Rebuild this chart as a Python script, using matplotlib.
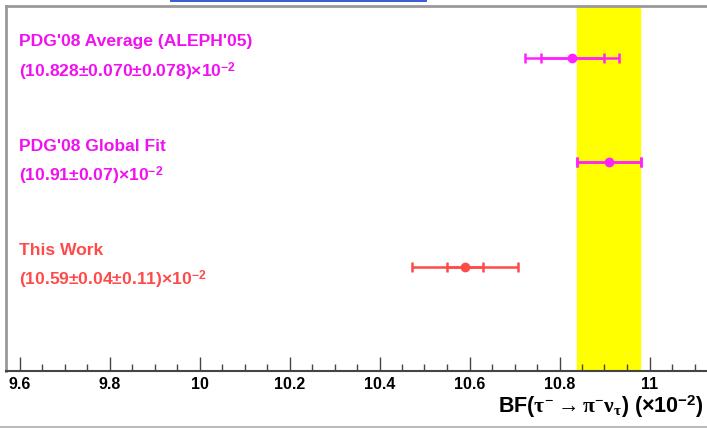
import matplotlib
matplotlib.use("Agg")
import matplotlib.pyplot as plt
from matplotlib.ticker import MultipleLocator
from matplotlib.patches import Rectangle
from matplotlib.lines import Line2D

plt.rcParams['font.family'] = ['Liberation Sans', 'DejaVu Sans']
plt.rcParams['font.weight'] = 'bold'
plt.rcParams['mathtext.fontset'] = 'custom'
plt.rcParams['mathtext.rm'] = 'Liberation Serif'
plt.rcParams['mathtext.it'] = 'Liberation Serif'
plt.rcParams['mathtext.bf'] = 'Liberation Sans:bold'

# measurements of BF(tau -> pi nu), in units of 1e-2
names = ["This Work", "PDG'08 Global Fit", "PDG'08 Average (ALEPH'05)"]
values_txt = [r"(10.59±0.04±0.11)×10$^{\mathbf{-2}}$",
              r"(10.91±0.07)×10$^{\mathbf{-2}}$",
              r"(10.828±0.070±0.078)×10$^{\mathbf{-2}}$"]
central = [10.59, 10.91, 10.828]
stat_err = [0.04, 0.07, 0.070]
total_err = [0.117, 0.07, 0.105]   # stat (+) syst in quadrature
rows = [1, 2, 3]
colors = ['#ff4a4a', '#ff22ff', '#ff22ff']
text_colors = ['#ff4a4a', '#f010f0', '#f010f0']

# PDG global fit band
band_lo = 10.84
band_hi = 10.98

fig = plt.figure(figsize=(7.07, 4.28), dpi=100)
ax = fig.add_axes([6/707, 57/428, 711/707, 365/428])
ax.set_xlim(9.57, 11.15)
ax.set_ylim(0, 3.5)

ax.axvspan(band_lo, band_hi, color='#ffff00', zorder=0)

for i in range(3):
    ax.errorbar(central[i], rows[i], xerr=total_err[i], fmt='none', ecolor=colors[i],
                elinewidth=1.8, capsize=3.3, capthick=1.8, zorder=3)
    ax.errorbar(central[i], rows[i], xerr=stat_err[i], fmt='o', color=colors[i], ms=6,
                ecolor=colors[i], elinewidth=1.8, capsize=3.3, capthick=1.8, zorder=4)
    ax.text(9.6, rows[i] + 0.155, names[i], color=text_colors[i], fontsize=12.6,
            fontweight='bold', va='center', ha='left')
    ax.text(9.6, rows[i] - 0.13, values_txt[i], color=text_colors[i], fontsize=12.6,
            fontweight='bold', va='center', ha='left')

ax.xaxis.set_major_locator(MultipleLocator(0.2))
ax.xaxis.set_minor_locator(MultipleLocator(0.05))
ax.xaxis.set_major_formatter(plt.FuncFormatter(lambda v, p: f"{v:g}"))
ax.tick_params(axis='x', which='major', direction='in', length=10, width=1,
               color='#444444', labelsize=11.5, pad=4)
ax.tick_params(axis='x', which='minor', direction='in', length=5, width=1, color='#444444')
ax.set_yticks([])
for lbl in ax.get_xticklabels():
    lbl.set_fontweight('bold')

ax.spines['left'].set_color('#999999')
ax.spines['left'].set_linewidth(2)
ax.spines['top'].set_color('#999999')
ax.spines['top'].set_linewidth(2)
ax.spines['bottom'].set_color('#444444')
ax.spines['bottom'].set_linewidth(1.5)
ax.spines['right'].set_visible(False)

fig.text(704/707, 15/428, r"BF($\tau^{-}\rightarrow\pi^{-}\nu_{\tau}$) (×10$^{\mathbf{-2}}$)",
         ha='right', va='baseline', fontsize=15.5, fontweight='bold')

# bits of the surrounding page that were caught in the screenshot
fig.add_artist(Rectangle((170/707, 426/428), 257/707, 2/428, transform=fig.transFigure,
                         color='#3a5fd8', lw=0))
fig.add_artist(Line2D([0, 1], [1/428, 1/428], transform=fig.transFigure,
                      color='#bbbbbb', lw=1.5))

fig.savefig("out.png", dpi=100)
